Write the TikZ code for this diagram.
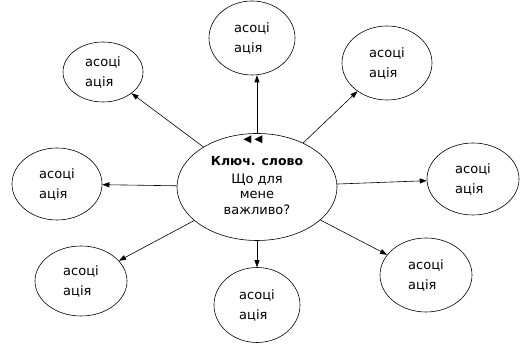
\documentclass[tikz,border=0pt]{standalone}
\usepackage{fontspec}
\setmainfont{DejaVu Sans}
\usetikzlibrary{shapes.geometric, arrows.meta}
\tikzstyle{assoc} = [ellipse, draw=black, line width=0.6pt, minimum width=88pt, minimum height=72pt, inner sep=0pt, align=left, font=\fontsize{13}{20}\selectfont]
\tikzstyle{keyword} = [ellipse, draw=black, line width=0.6pt, minimum width=160pt, minimum height=107pt, inner sep=0pt]
\tikzstyle{arrow} = [line width=0.6pt, -{Triangle[length=7pt,width=5pt]}]

\begin{document}
\begin{tikzpicture}[x=1pt, y=1pt]
		\useasboundingbox (0,0) rectangle (526,344);
		\node (key) [keyword] at (257,157) {};
		\node (marks) [font=\fontsize{10.5}{10.5}\selectfont] at (253,204) {◀\hspace{3pt}◀};
		\node (kwtext) [font=\fontsize{12.5}{15}\selectfont\bfseries] at (257,183) {Ключ. слово};
		\node (question) [align=center, font=\fontsize{13}{15.5}\selectfont] at (257,150) {Що для\\мене\\важливо?};
		\node (nw) [assoc, minimum width=80pt, minimum height=60pt] at (103,272) {асоці\\ація};
		\node (n) [assoc, minimum width=86pt, minimum height=74pt] at (252,306) {асоці\\ація};
		\node (ne) [assoc, minimum width=90pt, minimum height=74pt] at (387,281) {асоці\\ація};
		\node (w) [assoc, minimum width=90pt] at (57,160) {асоці\\ація};
		\node (e) [assoc, minimum width=92pt] at (473,165) {асоці\\ація};
		\node (sw) [assoc, minimum width=92pt, minimum height=70pt] at (81,63) {асоці\\ація};
		\node (s) [assoc, minimum width=86pt, minimum height=75pt] at (257,39) {асоці\\ація};
		\node (se) [assoc, minimum width=92pt, minimum height=74pt] at (426,69) {асоці\\ація};
		\draw [arrow] (key) -- (nw);
		\draw [arrow] (key.north) -- (key.north |- n.south);
		\draw [arrow] (key) -- (ne);
		\draw [arrow] (key) -- (w);
		\draw [arrow] (key) -- (e);
		\draw [arrow] (key) -- (sw);
		\draw [arrow] (key.south) -- (key.south |- s.north);
		\draw [arrow] (key) -- (se);
	\end{tikzpicture}
\end{document}
